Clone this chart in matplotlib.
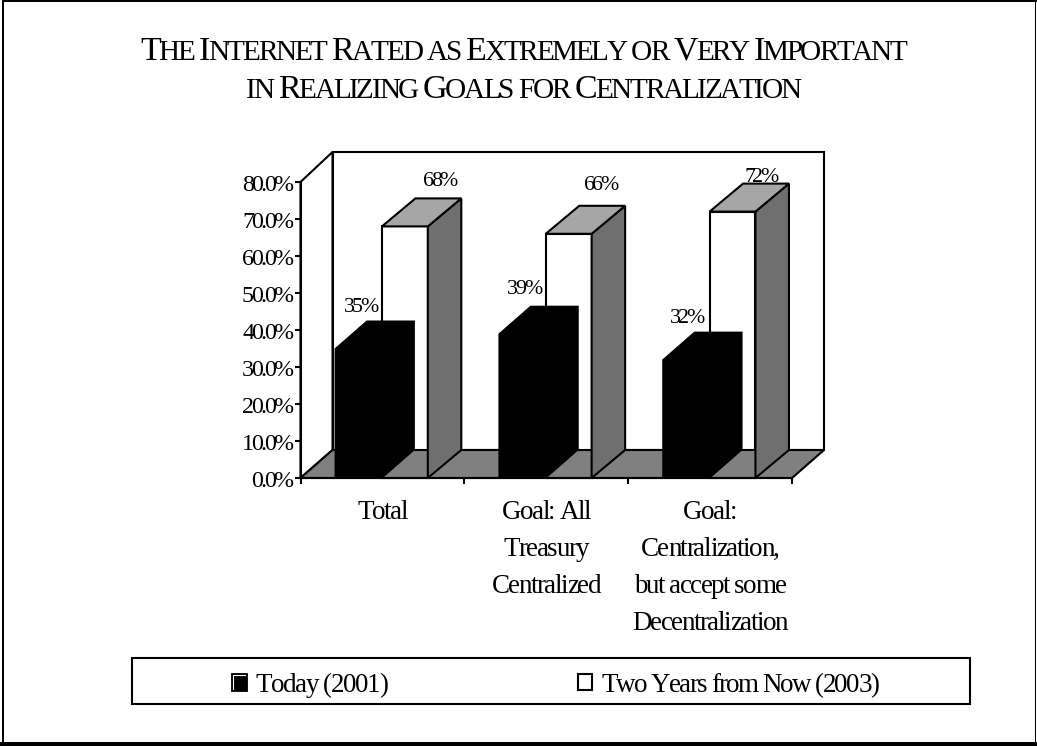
import matplotlib
matplotlib.use("Agg")
import matplotlib.pyplot as plt
from matplotlib.font_manager import FontProperties, findfont, get_font
from matplotlib.ft2font import LoadFlags
from matplotlib.patches import Polygon, Rectangle
from matplotlib.text import Text
from matplotlib.transforms import Affine2D, Bbox, IdentityTransform

# Chart values
title_lines = ["The Internet Rated as Extremely or Very Important",
               "in Realizing Goals for Centralization"]
categories = ["Total", "Goal: All\nTreasury\nCentralized",
              "Goal:\nCentralization,\nbut accept some\nDecentralization"]
series_names = ["Today (2001)", "Two Years from Now (2003)"]
today = [35, 39, 32]
two_years = [68, 66, 72]
y_ticks = [0, 10, 20, 30, 40, 50, 60, 70, 80]

# Canvas and plot-box layout, in pixels
W, H = 1037, 746
LEFT, RIGHT, BASE, TOP = 300.5, 792.0, 478.0, 182.0
PX_PER_UNIT = (BASE - TOP) / 80.0
PX_PER_CAT = (RIGHT - LEFT) / 3.0
DEPTH_Y = 28.0 / PX_PER_UNIT
WALL_DX = 32.0 / PX_PER_CAT
WALL_TOP = 80 + 30.0 / PX_PER_UNIT
TODAY_SPAN = (0.208, 0.503)
TODAY_DX = 32.0 / PX_PER_CAT
LATER_SPAN = (0.497, 0.777)
LATER_DX = 33.5 / PX_PER_CAT

# Value-label placement relative to the bar top: (x from group start, rise), in pixels
today_label_pos = [(59.0, 36), (59.0, 40), (58.0, 37)]
later_label_pos = [(138.5, 40), (135.5, 44), (132.0, 30)]

FLOOR, SIDE, CAP = "#808080", "#6f6f6f", "#a6a6a6"
LW = 1.5
SERIF = "Liberation Serif"


class SpacedText(Text):
    """Single-line text with adjustable letter spacing and optional small caps."""

    def __init__(self, x, y, source, size_px, tracking=0.0, small_caps=False, ratio=0.8, **kw):
        shown = source.upper() if small_caps else source
        super().__init__(x, y, shown, fontfamily=SERIF, fontsize=size_px * 0.72, **kw)
        self._source = source
        self._size_px = size_px
        self._tracking = tracking
        self._small_caps = small_caps
        self._ratio = ratio
        self._prop = FontProperties(family=SERIF)

    def _glyphs(self):
        font = get_font(findfont(self._prop))
        dpi = self.get_figure().dpi
        glyphs = []
        for ch in self._source:
            px = self._size_px
            if self._small_caps and ch.islower():
                px *= self._ratio
            shown = ch.upper() if self._small_caps else ch
            font.set_size(px * 0.72, dpi)
            adv = font.load_char(ord(shown), flags=LoadFlags.NO_HINTING).linearHoriAdvance / 65536
            glyphs.append((shown, px, adv + self._tracking))
        return glyphs

    def _origin(self, glyphs):
        x, y = self.get_transform().transform(self.get_position())
        total = sum(g[2] for g in glyphs)
        if self.get_ha() == "center":
            x -= total / 2
        elif self.get_ha() == "right":
            x -= total
        return x, y, total

    def draw(self, renderer):
        if not self.get_visible():
            return
        glyphs = self._glyphs()
        x, y, _ = self._origin(glyphs)
        for ch, px, adv in glyphs:
            piece = Text(x, y, ch, fontproperties=FontProperties(family=SERIF, size=px * 0.72),
                         color=self.get_color(), transform=IdentityTransform(),
                         va="baseline", ha="left")
            piece.set_figure(self.get_figure())
            piece.draw(renderer)
            x += adv

    def get_window_extent(self, renderer=None, dpi=None):
        glyphs = self._glyphs()
        x, y, total = self._origin(glyphs)
        return Bbox.from_extents(x, y - 0.2 * self._size_px, x + total, y + 0.66 * self._size_px)


fig = plt.figure(figsize=(W / 100, H / 100), dpi=100, facecolor="white")

# Full-canvas layer for the outer frame, title and legend
page = fig.add_axes([0, 0, 1, 1], zorder=0)
page.set_xlim(0, W)
page.set_ylim(H, 0)
page.axis("off")
page.add_patch(Rectangle((2, 0), 2, H, fc="black", lw=0))
page.add_patch(Rectangle((2, 0), W - 2, 1.7, fc="black", lw=0))
page.add_patch(Rectangle((1034.6, 0), 1, H, fc="black", lw=0))
page.add_patch(Rectangle((0, 742), W, 4, fc="black", lw=0))

for line, base_y in zip(title_lines, [60, 98]):
    page.add_artist(SpacedText(522.5, base_y, line, 34, tracking=-2.3, small_caps=True,
                               ratio=0.86, ha="center", color="black"))

page.add_patch(Rectangle((132, 658), 838, 45.5, fc="white", ec="black", lw=LW))
page.add_patch(Rectangle((231, 673), 16, 18, fc="black", ec="black", lw=0.6))
page.plot([233, 233, 245], [689, 675, 675], color="white", lw=0.8, solid_joinstyle="miter")
page.add_patch(Rectangle((578, 674), 14, 16, fc="white", ec="black", lw=LW))
page.add_artist(SpacedText(255.5, 692, series_names[0], 27, tracking=-1.4, color="black"))
page.add_artist(SpacedText(601, 692, series_names[1], 27, tracking=-1.6, color="black"))

# Plot box: x runs over the category slots, y over the percentage scale
ax = fig.add_axes([LEFT / W, 1 - BASE / H, (RIGHT - LEFT) / W, (BASE - TOP) / H], zorder=1)
ax.patch.set_alpha(0)
ax.set_xlim(0, 3)
ax.set_ylim(0, 80)
for name in ("top", "right"):
    ax.spines[name].set_visible(False)
for name in ("left", "bottom"):
    ax.spines[name].set_linewidth(LW)
    ax.spines[name].set_zorder(9)
ax.set_xticks(range(4))
ax.set_yticks(y_ticks)
ax.tick_params(length=4.2, width=LW, labelleft=False, labelbottom=False)


def shifted(dx, dy):
    """Data coordinates moved by a fixed number of pixels."""
    return ax.transData + Affine2D().translate(dx, dy)


def poly(points, color, z, edge="black"):
    ax.add_patch(Polygon(points, closed=True, fc=color, ec=edge, lw=LW if edge != "none" else 0,
                         zorder=z, clip_on=False, joinstyle="miter"))


# Back wall and side wall
poly([(WALL_DX, DEPTH_Y), (3 + WALL_DX, DEPTH_Y), (3 + WALL_DX, WALL_TOP), (WALL_DX, WALL_TOP)],
     "white", 1)
poly([(0, 0), (WALL_DX, DEPTH_Y), (WALL_DX, WALL_TOP), (0, 80)], "white", 1)

# White fronts sit below the floor plane, whose band covers their lower part
for i, b in enumerate(two_years):
    x0, x1 = i + LATER_SPAN[0], i + LATER_SPAN[1]
    poly([(x0, 0), (x1, 0), (x1, b), (x0, b)], "white", 2)
poly([(0, 0), (WALL_DX, DEPTH_Y), (3 + WALL_DX, DEPTH_Y), (3, 0)], FLOOR, 3)

for i, (a, b) in enumerate(zip(today, two_years)):
    x0, x1 = i + LATER_SPAN[0], i + LATER_SPAN[1]
    poly([(x1, 0), (x1 + LATER_DX, DEPTH_Y), (x1 + LATER_DX, b + DEPTH_Y), (x1, b)], SIDE, 4)
    poly([(x0, b), (x0 + LATER_DX, b + DEPTH_Y), (x1 + LATER_DX, b + DEPTH_Y), (x1, b)], CAP, 4)
    x0, x1 = i + TODAY_SPAN[0], i + TODAY_SPAN[1]
    poly([(x0, 0), (x1, 0), (x1 + TODAY_DX, DEPTH_Y), (x1 + TODAY_DX, a + DEPTH_Y),
          (x0 + TODAY_DX, a + DEPTH_Y), (x0, a)], "black", 5, edge="none")
    for value, (dx_px, rise) in ((a, today_label_pos[i]), (b, later_label_pos[i])):
        ax.add_artist(SpacedText(i, value, f"{value}%", 22, tracking=-2.8, ha="center",
                                 transform=shifted(dx_px, rise), color="black", zorder=6))

# Value-axis labels
for v in y_ticks:
    ax.add_artist(SpacedText(0, v, f"{v:.1f}%", 24, tracking=-2.6, ha="right",
                             transform=shifted(-9.5, -9), color="black", zorder=6))

# Category labels, one text per line, centred under each slot
for i, label in enumerate(categories):
    for k, line in enumerate(label.split("\n")):
        ax.add_artist(SpacedText(i + 0.5, 0, line, 27, tracking=-1.5, ha="center",
                                 transform=shifted(-0.5, -(41 + 37 * k)), color="black", zorder=6))

fig.savefig("out.png", dpi=100)
